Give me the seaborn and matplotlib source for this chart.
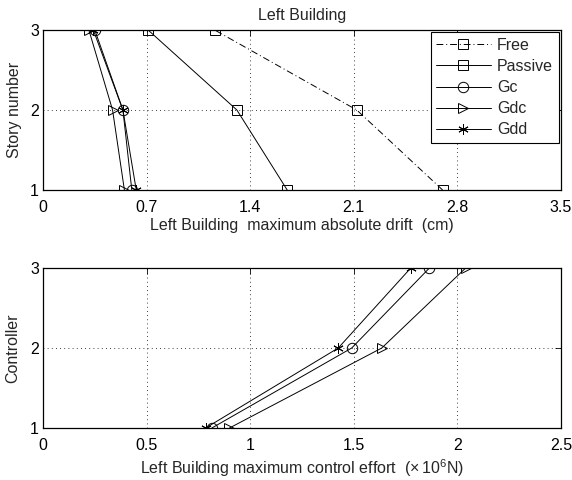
import matplotlib
matplotlib.use("Agg")
import matplotlib.pyplot as plt
import seaborn as sns
import pandas as pd

stories = [1, 2, 3]
free = [2.70, 2.12, 1.16]
passive = [1.65, 1.31, 0.71]
gc_drift = [0.60, 0.54, 0.35]
gdc_drift = [0.55, 0.47, 0.31]
gdd_drift = [0.63, 0.54, 0.34]

controllers = [1, 2, 3]
gc_effort = [0.815, 1.49, 1.865]
gdc_effort = [0.90, 1.635, 2.04]
gdd_effort = [0.785, 1.425, 1.775]

drift_ticks = [0, 0.7, 1.4, 2.1, 2.8, 3.5]
effort_ticks = [0, 0.5, 1, 1.5, 2, 2.5]

FS = 11.5

sns.set_theme(style="white")
plt.rcParams['font.family'] = ['Liberation Sans', 'DejaVu Sans']
plt.rcParams['font.size'] = FS
plt.rcParams['mathtext.fontset'] = 'custom'
plt.rcParams['mathtext.rm'] = 'Liberation Sans'

fig = plt.figure(figsize=(5.72, 4.8), dpi=100)
ax1 = fig.add_axes([43/572, 1-190/480, 518/572, 160/480])
ax2 = fig.add_axes([43/572, 1-428/480, 518/572, 160/480])

asterisk = (6, 2, 0)
lw = 0.7
ms = 7.5

top_series = [
    ("Free", free, "s", (0, (7, 3, 1, 3))),
    ("Passive", passive, "s", "-"),
    ("Gc", gc_drift, "o", "-"),
    ("Gdc", gdc_drift, ">", "-"),
    ("Gdd", gdd_drift, asterisk, "-"),
]
for name, vals, mk, ls in top_series:
    df = pd.DataFrame({"x": vals, "y": stories})
    sns.lineplot(data=df, x="x", y="y", sort=False, estimator=None, ax=ax1,
                 color="black", linewidth=lw, linestyle=ls, marker=mk,
                 markersize=ms, markerfacecolor="none", markeredgecolor="black",
                 markeredgewidth=0.7, label=name)

bottom_series = [
    ("Gc", gc_effort, "o"),
    ("Gdc", gdc_effort, ">"),
    ("Gdd", gdd_effort, asterisk),
]
for name, vals, mk in bottom_series:
    df = pd.DataFrame({"x": vals, "y": controllers})
    sns.lineplot(data=df, x="x", y="y", sort=False, estimator=None, ax=ax2,
                 color="black", linewidth=lw, marker=mk,
                 markersize=ms, markerfacecolor="none", markeredgecolor="black",
                 markeredgewidth=0.7, legend=False)

for ax, ticks in [(ax1, drift_ticks), (ax2, effort_ticks)]:
    ax.set_xlim(ticks[0], ticks[-1])
    ax.set_ylim(1, 3)
    ax.set_xticks(ticks)
    ax.set_xticklabels([f"{t:g}" for t in ticks])
    ax.set_yticks([1, 2, 3])
    ax.grid(True, color="black", linestyle=(0, (1, 4)), linewidth=0.6)
    ax.tick_params(direction="in", top=True, right=True, length=4, width=0.6,
                   labelsize=FS, colors="black")
    ax.tick_params(axis="x", pad=7.5)
    ax.tick_params(axis="y", pad=3)
    for s in ax.spines.values():
        s.set_color("black")
        s.set_linewidth(0.9)
    ax.set_facecolor("white")

ax1.set_title("Left Building", fontsize=FS, pad=7)
ax1.set_xlabel("Left Building  maximum absolute drift  (cm)", fontsize=FS, labelpad=2)
ax1.set_ylabel("Story number", fontsize=FS, labelpad=6)
ax2.set_xlabel(r"Left Building maximum control effort  ($\times\,10^6$N)", fontsize=FS, labelpad=3)
ax2.set_ylabel("Controller", fontsize=FS, labelpad=7)

leg = ax1.legend(loc="upper right", fontsize=FS, frameon=True, fancybox=False,
                 edgecolor="black", framealpha=1, handlelength=3.4,
                 borderpad=0.35, labelspacing=0.38, handletextpad=0.4,
                 borderaxespad=0.15)
leg.get_frame().set_linewidth(0.8)

fig.savefig("out.png", dpi=100)
